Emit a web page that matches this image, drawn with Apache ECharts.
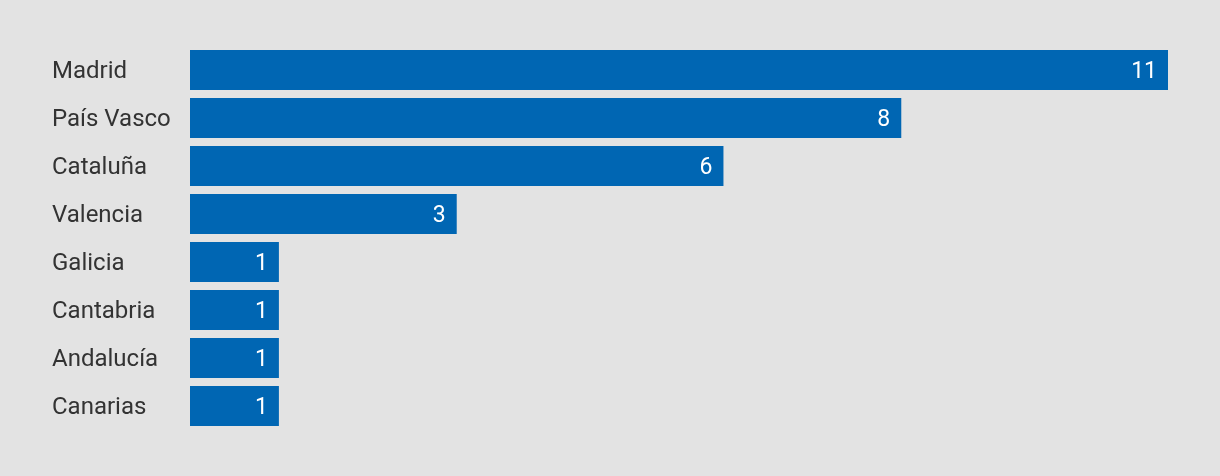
<!DOCTYPE html>
<html><head><meta charset="utf-8">
<script src="https://cdn.jsdelivr.net/npm/echarts@6/dist/echarts.min.js"></script>
<style>html,body{margin:0;padding:0;background:#e3e3e3;}#c{width:1220px;height:476px;}</style>
</head><body><div id="c"></div>
<script>
const categories = ["Madrid","País Vasco","Cataluña","Valencia","Galicia","Cantabria","Andalucía","Canarias"];
const values = [11,8,6,3,1,1,1,1];
const chart = echarts.init(document.getElementById('c'));
chart.setOption({
  backgroundColor:'#e3e3e3',
  animation:false,
  grid:{left:190,right:52,top:46,bottom:46},
  xAxis:{type:'value',min:0,max:11,show:false},
  yAxis:{type:'category',data:categories,inverse:true,
    axisLine:{show:false},axisTick:{show:false},
    axisLabel:{align:'left',margin:138,formatter:'{a|{value}}',
      rich:{a:{color:'#333',fontSize:24,fontFamily:'Roboto',padding:[3,0,0,0]}}}},
  series:[{type:'bar',data:values,barCategoryGap:'16.7%',
    itemStyle:{color:'#0066b3'},
    label:{show:true,position:'insideRight',distance:11,color:'#fff',fontSize:23,fontFamily:'Roboto',offset:[0,2]}}]
});
</script></body></html>
